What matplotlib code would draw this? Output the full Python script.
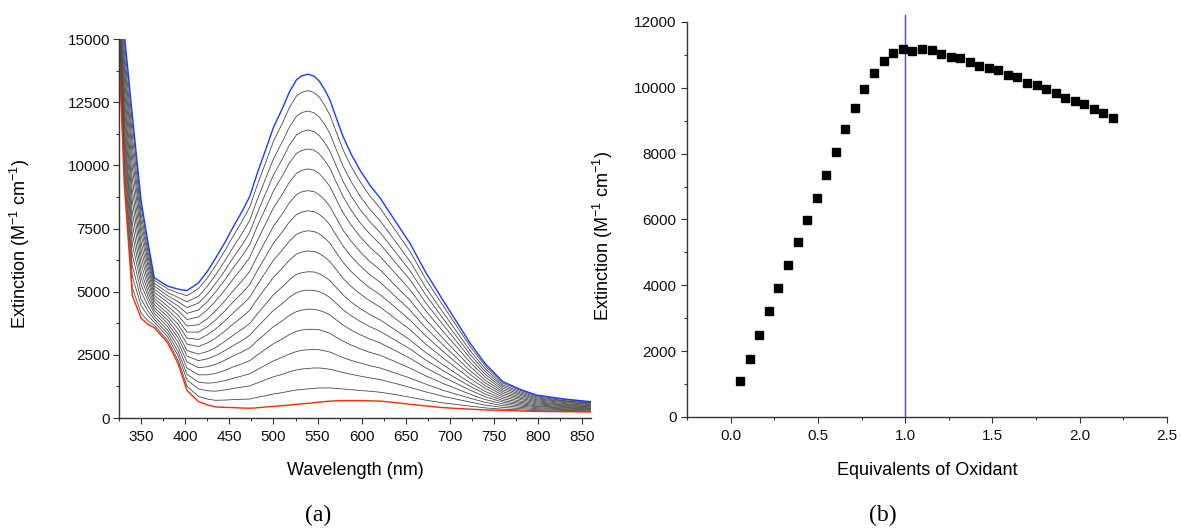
import numpy as np
import matplotlib
matplotlib.use("Agg")
import matplotlib.pyplot as plt
from matplotlib.ticker import MultipleLocator

plt.rcParams['font.family'] = ['Liberation Sans', 'DejaVu Sans']
plt.rcParams['mathtext.default'] = 'regular'

# ---- (a) titration spectra ----
wavelength = [325, 331, 340, 350, 358, 365, 380, 392, 402, 415, 425, 434, 445, 455, 464,
              473, 482, 492, 500, 511, 518, 526, 532, 539, 546, 552, 558, 564, 571, 579,
              588, 598, 609, 621, 638, 655, 672, 692, 723, 740, 760, 780, 798, 830, 860]

# starting spectrum (red) and final spectrum (blue)
start_spec = [14500, 9200, 4850, 3950, 3700, 3580, 2980, 2150, 1090, 650, 520, 440, 420, 410, 395,
              385, 405, 440, 460, 490, 515, 540, 560, 580, 605, 630, 650, 670, 680, 690,
              690, 690, 680, 670, 610, 540, 480, 410, 350, 320, 300, 280, 260, 250, 240]
final_spec = [17000, 15200, 12000, 8600, 6900, 5550, 5220, 5100, 5040, 5350, 5800, 6300, 6950, 7600, 8150,
              8760, 9720, 10700, 11500, 12320, 12900, 13380, 13540, 13610, 13530, 13330, 13000, 12590, 11900, 11130,
              10450, 9815, 9230, 8700, 7800, 6900, 5800, 4670, 2955, 2150, 1440, 1130, 910, 750, 645]

# intermediate spectra: one row per wavelength, one column per addition (top to bottom)
mid_specs = [
    [16880, 16720, 16580, 16430, 16280, 16120, 15960, 15810, 15660, 15500, 15360, 15220, 15060, 14910, 14770, 14610],
    [14900, 14530, 14180, 13840, 13470, 13080, 12710, 12340, 11980, 11600, 11260, 10920, 10550, 10180, 9840, 9460],
    [11640, 11200, 10780, 10380, 9940, 9470, 9030, 8600, 8160, 7710, 7310, 6900, 6460, 6020, 5610, 5160],
    [8370, 8080, 7810, 7540, 7260, 6950, 6670, 6390, 6100, 5810, 5550, 5280, 5000, 4710, 4440, 4150],
    [6740, 6540, 6360, 6170, 5980, 5770, 5570, 5380, 5180, 4980, 4800, 4620, 4420, 4220, 4040, 3840],
    [5450, 5330, 5220, 5100, 4980, 4850, 4730, 4610, 4490, 4370, 4260, 4140, 4020, 3900, 3790, 3670],
    [5110, 4970, 4840, 4710, 4580, 4430, 4290, 4150, 4020, 3880, 3750, 3620, 3480, 3350, 3220, 3080],
    [4950, 4770, 4600, 4430, 4250, 4060, 3880, 3700, 3520, 3330, 3170, 2990, 2810, 2630, 2460, 2280],
    [4840, 4600, 4370, 4140, 3900, 3640, 3400, 3160, 2920, 2670, 2450, 2220, 1980, 1730, 1510, 1260],
    [5120, 4820, 4550, 4280, 4000, 3690, 3400, 3110, 2830, 2530, 2270, 1990, 1710, 1420, 1150, 860],
    [5540, 5210, 4900, 4600, 4280, 3930, 3610, 3290, 2970, 2630, 2340, 2030, 1710, 1380, 1080, 750],
    [6010, 5640, 5300, 4970, 4610, 4230, 3870, 3510, 3150, 2780, 2460, 2120, 1760, 1400, 1060, 700],
    [6620, 6220, 5840, 5470, 5070, 4640, 4240, 3840, 3440, 3030, 2670, 2290, 1890, 1480, 1110, 710],
    [7240, 6800, 6380, 5970, 5530, 5060, 4620, 4180, 3740, 3290, 2880, 2470, 2030, 1580, 1170, 730],
    [7760, 7280, 6830, 6390, 5920, 5410, 4930, 4460, 3990, 3500, 3060, 2610, 2140, 1660, 1220, 740],
    [8340, 7820, 7340, 6860, 6350, 5800, 5280, 4770, 4260, 3740, 3270, 2780, 2270, 1750, 1270, 750],
    [9250, 8680, 8140, 7610, 7040, 6420, 5850, 5290, 4720, 4130, 3610, 3070, 2500, 1920, 1390, 820],
    [10190, 9550, 8960, 8370, 7750, 7070, 6440, 5820, 5190, 4540, 3970, 3370, 2750, 2110, 1530, 890],
    [10950, 10260, 9620, 8990, 8320, 7590, 6920, 6250, 5570, 4880, 4260, 3620, 2940, 2260, 1630, 950],
    [11730, 11000, 10310, 9640, 8910, 8130, 7410, 6690, 5970, 5220, 4560, 3870, 3150, 2420, 1740, 1010],
    [12280, 11510, 10800, 10090, 9330, 8520, 7760, 7000, 6250, 5470, 4780, 4060, 3300, 2530, 1830, 1060],
    [12740, 11940, 11200, 10470, 9680, 8840, 8050, 7270, 6490, 5680, 4960, 4210, 3430, 2630, 1900, 1110],
    [12890, 12090, 11330, 10590, 9800, 8950, 8150, 7360, 6570, 5750, 5030, 4270, 3480, 2680, 1940, 1130],
    [12960, 12150, 11400, 10650, 9860, 9000, 8200, 7410, 6610, 5790, 5060, 4310, 3510, 2700, 1960, 1150],
    [12880, 12080, 11330, 10600, 9810, 8960, 8170, 7380, 6590, 5780, 5050, 4300, 3510, 2710, 1980, 1170],
    [12700, 11910, 11170, 10450, 9670, 8830, 8060, 7290, 6510, 5710, 5000, 4260, 3490, 2700, 1980, 1190],
    [12380, 11620, 10900, 10200, 9440, 8630, 7880, 7120, 6370, 5590, 4900, 4180, 3430, 2660, 1960, 1190],
    [11990, 11260, 10560, 9880, 9160, 8370, 7640, 6920, 6190, 5440, 4770, 4080, 3350, 2610, 1930, 1190],
    [11340, 10640, 9990, 9350, 8670, 7930, 7240, 6560, 5880, 5170, 4540, 3890, 3200, 2510, 1870, 1170],
    [10610, 9960, 9360, 8760, 8120, 7430, 6800, 6160, 5520, 4870, 4280, 3680, 3040, 2390, 1800, 1150],
    [9960, 9360, 8790, 8230, 7640, 7000, 6400, 5800, 5210, 4590, 4050, 3480, 2890, 2280, 1730, 1120],
    [9360, 8790, 8260, 7740, 7190, 6590, 6030, 5470, 4920, 4340, 3830, 3300, 2740, 2180, 1660, 1090],
    [8800, 8270, 7780, 7290, 6770, 6200, 5680, 5160, 4640, 4100, 3620, 3130, 2600, 2070, 1590, 1060],
    [8300, 7800, 7340, 6880, 6390, 5860, 5370, 4880, 4390, 3880, 3430, 2970, 2480, 1980, 1520, 1020],
    [7440, 7000, 6580, 6170, 5730, 5250, 4820, 4380, 3940, 3490, 3080, 2670, 2230, 1780, 1370, 930],
    [6580, 6190, 5820, 5460, 5070, 4650, 4260, 3870, 3490, 3080, 2730, 2360, 1970, 1580, 1210, 820],
    [5530, 5200, 4900, 4590, 4270, 3920, 3590, 3270, 2940, 2610, 2310, 2000, 1680, 1350, 1040, 710],
    [4460, 4190, 3950, 3700, 3440, 3160, 2900, 2640, 2380, 2110, 1880, 1630, 1370, 1100, 860, 600],
    [2830, 2660, 2510, 2360, 2200, 2030, 1870, 1720, 1560, 1390, 1250, 1100, 940, 780, 630, 470],
    [2060, 1950, 1840, 1730, 1620, 1500, 1390, 1280, 1170, 1050, 950, 840, 730, 620, 510, 400],
    [1380, 1310, 1250, 1180, 1110, 1040, 970, 900, 830, 760, 690, 630, 560, 490, 420, 350],
    [1090, 1040, 990, 940, 890, 830, 780, 730, 670, 620, 570, 520, 470, 420, 370, 320],
    [880, 840, 800, 760, 720, 680, 640, 600, 560, 520, 480, 450, 410, 370, 330, 290],
    [730, 690, 670, 640, 610, 570, 540, 510, 480, 450, 420, 390, 360, 330, 300, 270],
    [620, 600, 580, 550, 530, 500, 480, 450, 430, 400, 380, 360, 330, 310, 280, 260],
]

# ---- (b) extinction vs equivalents ----
equiv = [0.056, 0.111, 0.165, 0.220, 0.274, 0.329, 0.385, 0.439, 0.494, 0.548,
         0.603, 0.657, 0.713, 0.766, 0.822, 0.878, 0.933, 0.987, 1.042, 1.098,
         1.151, 1.207, 1.263, 1.316, 1.372, 1.425, 1.479, 1.533, 1.588, 1.642,
         1.697, 1.753, 1.806, 1.862, 1.916, 1.971, 2.025, 2.080, 2.134, 2.190]
extinction = [1100, 1760, 2480, 3210, 3920, 4610, 5310, 5980, 6650, 7360,
              8040, 8760, 9380, 9960, 10450, 10810, 11050, 11170, 11130, 11180,
              11150, 11030, 10950, 10900, 10790, 10660, 10590, 10530, 10380, 10320,
              10150, 10080, 9960, 9840, 9700, 9600, 9500, 9360, 9230, 9090]
endpoint = 1.0

ylab = "Extinction (M$^{-1}$ cm$^{-1}$)"
axis_col = "#333333"


def style_axes(ax, ypad):
    for s in ("top", "right"):
        ax.spines[s].set_visible(False)
    for s in ("left", "bottom"):
        ax.spines[s].set_color(axis_col)
        ax.spines[s].set_linewidth(1.0)
    ax.tick_params(which="major", direction="out", length=4.5, width=0.8,
                   color=axis_col, labelsize=11, labelcolor="#111111", pad=4)
    ax.tick_params(which="minor", direction="out", length=2.5, width=0.8, color=axis_col)
    ax.tick_params(axis="y", pad=ypad)


fig = plt.figure(figsize=(11.81, 5.31), dpi=100)

ax1 = fig.add_axes([0.1008, 0.2128, 0.3997, 0.7137])
wl = np.array(wavelength)
mids = np.array(mid_specs).T
for spec in mids:
    ax1.plot(wl, spec, color="#4a4a4a", lw=0.6)
ax1.plot(wl, start_spec, color="#ff2a00", lw=1.0)
ax1.plot(wl, final_spec, color="#1a3cff", lw=1.0)
ax1.set_xlim(325, 860)
ax1.set_ylim(0, 15000)
ax1.xaxis.set_major_locator(MultipleLocator(50))
ax1.xaxis.set_minor_locator(MultipleLocator(25))
ax1.yaxis.set_major_locator(MultipleLocator(2500))
ax1.yaxis.set_minor_locator(MultipleLocator(1250))
style_axes(ax1, 2)
ax1.set_xlabel("Wavelength (nm)", fontsize=13)
ax1.set_ylabel(ylab, fontsize=13)
ax1.xaxis.set_label_coords(0.5, -0.116)
ax1.yaxis.set_label_coords(-0.184, 0.46)

ax2 = fig.add_axes([0.5817, 0.2147, 0.4064, 0.7439])
ax2.plot(equiv, extinction, "s", color="black", ms=5.8, mec="black")
ax2.axvline(endpoint, ymin=0, ymax=1.018, color="#3050ff", lw=1.0, clip_on=False, zorder=1)
ax2.set_xlim(-0.25, 2.5)
ax2.set_ylim(0, 12000)
ax2.xaxis.set_major_locator(MultipleLocator(0.5))
ax2.xaxis.set_minor_locator(MultipleLocator(0.25))
ax2.yaxis.set_major_locator(MultipleLocator(2000))
ax2.yaxis.set_minor_locator(MultipleLocator(1000))
ax2.xaxis.set_major_formatter(plt.FuncFormatter(lambda v, p: f"{v:.1f}"))
style_axes(ax2, 3)
ax2.set_xlabel("Equivalents of Oxidant", fontsize=13)
ax2.set_ylabel(ylab, fontsize=13)
ax2.xaxis.set_label_coords(0.5, -0.114)
ax2.yaxis.set_label_coords(-0.15, 0.458)

fig.text(318 / 1181, 1 - 515 / 531, "(a)", family="Liberation Serif", fontsize=17,
         ha="center", va="center")
fig.text(883 / 1181, 1 - 515 / 531, "(b)", family="Liberation Serif", fontsize=17,
         ha="center", va="center")

fig.savefig("out.png", dpi=100)
